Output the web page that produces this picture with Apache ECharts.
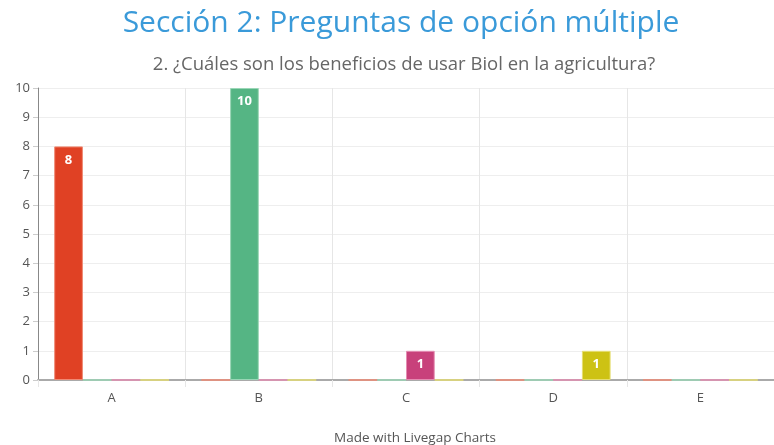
<!DOCTYPE html>
<html>
<head>
<meta charset="utf-8">
<script src="https://cdn.jsdelivr.net/npm/echarts@6/dist/echarts.min.js"></script>
<style>
  html, body { margin: 0; padding: 0; background: #fff; }
  #chart { width: 774px; height: 445px; }
</style>
</head>
<body>
<div id="chart"></div>
<script>
const categories = ["A", "B", "C", "D", "E"];
const serie1 = [8, 0, 0, 0, 0];
const serie2 = [0, 10, 0, 0, 0];
const serie3 = [0, 0, 1, 0, 0];
const serie4 = [0, 0, 0, 1, 0];
const colors = ["#e04124", "#55b584", "#c8417b", "#cdc214"];
const borders = ["#f08a74", "#9ad6b6", "#e48db2", "#e6de72"];

const chart = echarts.init(document.getElementById("chart"));
const makeSerie = (data, i) => ({
  type: "bar",
  data: data,
  barGap: "0%",
  barCategoryGap: "22%",
  itemStyle: {
    color: colors[i],
    borderColor: borders[i],
    borderWidth: 1
  },
  label: {
    show: true,
    position: "insideTop",
    distance: 7,
    color: "#fff",
    fontWeight: "bold",
    fontSize: 13,
    fontFamily: "Open Sans",
    formatter: function(p) {
      return p.value > 0 ? p.value : "";
    }
  }
});

chart.setOption({
  animation: false,
  title: [{
    text: "Sección 2: Preguntas de opción múltiple",
    left: 396,
    top: 3,
    textAlign: "center",
    textStyle: { color: "#3a9ad9", fontSize: 30, fontWeight: "normal", fontFamily: "Open Sans" }
  }, {
    text: "2. ¿Cuáles son los beneficios de usar Biol en la agricultura?",
    left: 399,
    top: 50,
    textAlign: "center",
    textStyle: { color: "#666", fontSize: 18.5, fontWeight: "normal", fontFamily: "Open Sans" }
  }, {
    text: "Made with Livegap Charts",
    left: 410,
    top: 426,
    textAlign: "center",
    textStyle: { color: "#555", fontSize: 13.5, fontWeight: "normal", fontFamily: "Open Sans" }
  }],
  grid: { left: 38, right: -3, top: 88, bottom: 65 },
  xAxis: {
    type: "category",
    data: categories,
    axisLine: { lineStyle: { color: "#aaa", width: 2 } },
    axisTick: { show: true, length: 7, lineStyle: { color: "#e6e6e6" } },
    axisLabel: { color: "#555", fontSize: 13, fontFamily: "Open Sans", margin: 12 },
    splitLine: { show: true, lineStyle: { color: "#e6e6e6" } }
  },
  yAxis: {
    type: "value",
    min: 0,
    max: 10,
    interval: 1,
    axisLine: { show: true, lineStyle: { color: "#888" } },
    axisTick: { show: true, length: 5, lineStyle: { color: "#ccc" } },
    axisLabel: { color: "#555", fontSize: 13, fontFamily: "Open Sans", margin: 8 },
    splitLine: { show: true, lineStyle: { color: "#eeeeee" } }
  },
  series: [serie1, serie2, serie3, serie4].map(makeSerie)
});
</script>
</body>
</html>
